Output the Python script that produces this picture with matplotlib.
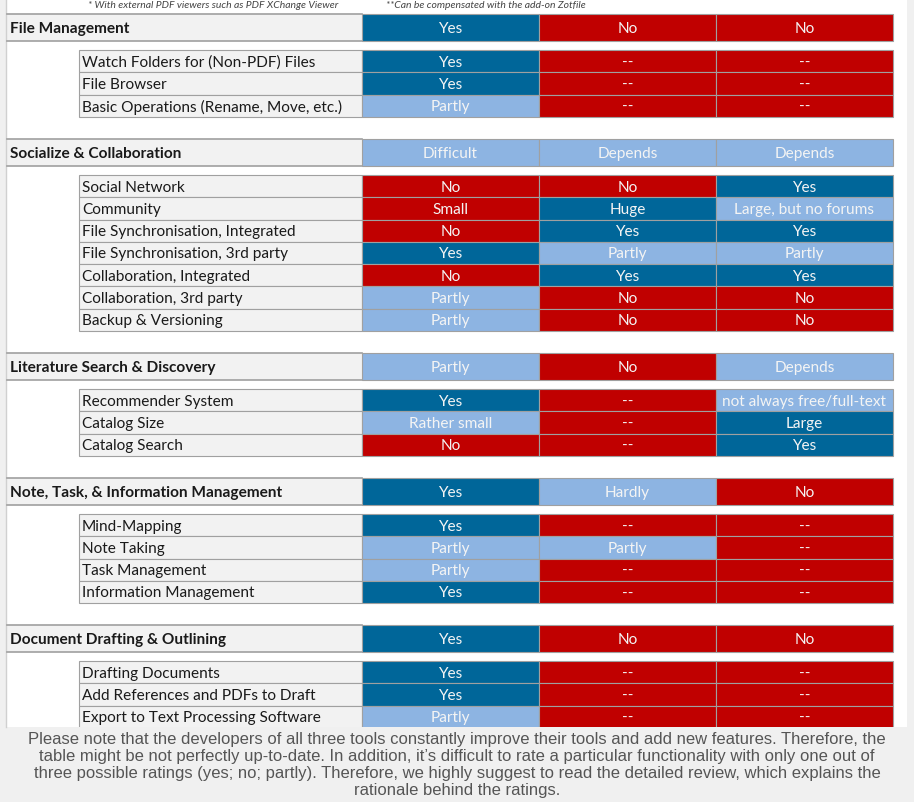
import matplotlib
matplotlib.use("Agg")
import matplotlib.pyplot as plt
from matplotlib.patches import Rectangle

# ---------------- data ----------------
sections = [
    "File Management",
    "Socialize & Collaboration",
    "Literature Search & Discovery",
    "Note, Task, & Information Management",
    "Document Drafting & Outlining",
]
section_ratings = [
    ["Yes", "No", "No"],
    ["Difficult", "Depends", "Depends"],
    ["Partly", "No", "Depends"],
    ["Yes", "Hardly", "No"],
    ["Yes", "No", "No"],
]
features = [
    ["Watch Folders for (Non-PDF) Files", "File Browser",
     "Basic Operations (Rename, Move, etc.)"],
    ["Social Network", "Community", "File Synchronisation, Integrated",
     "File Synchronisation, 3rd party", "Collaboration, Integrated",
     "Collaboration, 3rd party", "Backup & Versioning"],
    ["Recommender System", "Catalog Size", "Catalog Search"],
    ["Mind-Mapping", "Note Taking", "Task Management", "Information Management"],
    ["Drafting Documents", "Add References and PDFs to Draft",
     "Export to Text Processing Software"],
]
feature_ratings = [
    [["Yes", "--", "--"], ["Yes", "--", "--"], ["Partly", "--", "--"]],
    [["No", "No", "Yes"], ["Small", "Huge", "Large, but no forums"],
     ["No", "Yes", "Yes"], ["Yes", "Partly", "Partly"], ["No", "Yes", "Yes"],
     ["Partly", "No", "No"], ["Partly", "No", "No"]],
    [["Yes", "--", "not always free/full-text"], ["Rather small", "--", "Large"],
     ["No", "--", "Yes"]],
    [["Yes", "--", "--"], ["Partly", "Partly", "--"], ["Partly", "--", "--"],
     ["Yes", "--", "--"]],
    [["Yes", "--", "--"], ["Yes", "--", "--"], ["Partly", "--", "--"]],
]
footnote_1 = "* With external PDF viewers such as PDF XChange Viewer"
footnote_2 = "**Can be compensated with the add-on Zotfile"
caption_lines = [
    "Please note that the developers of all three tools constantly improve their tools and add new features. Therefore, the",
    "table might be not perfectly up-to-date. In addition, it\u2019s difficult to rate a particular functionality with only one out of",
    "three possible ratings (yes; no; partly). Therefore, we highly suggest to read the detailed review, which explains the",
    "rationale behind the ratings.",
]

# ---------------- style ----------------
DARK = "#006699"
RED = "#c00000"
LIGHT = "#8db4e2"
color_of = {
    "Yes": DARK, "Huge": DARK, "Large": DARK,
    "No": RED, "--": RED, "Small": RED,
}
LABEL_BG = "#f2f2f2"
BORDER = "#a0a0a0"
PAGE_BG = "#f0f0f0"
TABLE_FONT = ["Lato", "DejaVu Sans"]
CAP_FONT = ["Liberation Sans Narrow", "Liberation Sans", "DejaVu Sans"]
FS = 11.1

W, H = 914, 802
fig = plt.figure(figsize=(W / 100, H / 100), dpi=100)
fig.patch.set_facecolor(PAGE_BG)
ax = fig.add_axes([0, 0, 1, 1])
ax.set_xlim(0, W)
ax.set_ylim(H, 0)
ax.axis("off")

# white panel
ax.add_patch(Rectangle((6, 0), 901, 727, facecolor="white", edgecolor="none"))
ax.plot([6, 6], [0, 727], color="#d0d0d0", lw=1)

x_label, x_sub, x_col0, col_w = 7, 79, 362, 177
head_h, gap1, row_h, gap2 = 27, 9, 22.3, 22

ax.text(88, 5.5, footnote_1, fontsize=7.5, style="italic", color="#444444",
        family=TABLE_FONT, va="center", ha="left")
ax.text(386, 5.5, footnote_2, fontsize=7.5, style="italic", color="#444444",
        family=TABLE_FONT, va="center", ha="left")


def rating_cells(y, h, ratings):
    for j, val in enumerate(ratings):
        x = x_col0 + j * col_w
        ax.add_patch(Rectangle((x, y), col_w, h, facecolor=color_of.get(val, LIGHT),
                               edgecolor=BORDER, lw=0.8))
        ax.text(x + col_w / 2, y + h / 2 + 1.5, val, fontsize=FS, color="#f4f4f4",
                ha="center", va="center", family=TABLE_FONT)


y = 14
for s, name in enumerate(sections):
    # header row
    ax.add_patch(Rectangle((x_label, y), x_col0 - x_label, head_h,
                           facecolor=LABEL_BG, edgecolor="none"))
    ax.plot([x_label, x_col0], [y, y], color=BORDER, lw=1.2)
    ax.plot([x_label, x_col0], [y + head_h, y + head_h], color=BORDER, lw=1.2)
    ax.text(x_label + 3, y + head_h / 2 + 1.5, name, fontsize=FS, fontweight="bold",
            color="#1a1a1a", ha="left", va="center", family=TABLE_FONT)
    rating_cells(y, head_h, section_ratings[s])
    y += head_h + gap1
    for f, feat in enumerate(features[s]):
        ax.add_patch(Rectangle((x_sub, y), x_col0 - x_sub, row_h,
                               facecolor=LABEL_BG, edgecolor=BORDER, lw=0.8))
        ax.text(x_sub + 3, y + row_h / 2 + 1.5, feat, fontsize=FS, color="#1a1a1a",
                ha="left", va="center", family=TABLE_FONT)
        rating_cells(y, row_h, feature_ratings[s][f])
        y += row_h
    y += gap2

# caption box
ax.add_patch(Rectangle((0, 727), W, H - 727, facecolor=PAGE_BG, edgecolor="none"))
for i, line in enumerate(caption_lines):
    ax.text(457, 739.5 + i * 17, line, fontsize=12.0, color="#555555",
            ha="center", va="center", family=CAP_FONT)

fig.savefig("out.png", dpi=100, facecolor=fig.get_facecolor())
